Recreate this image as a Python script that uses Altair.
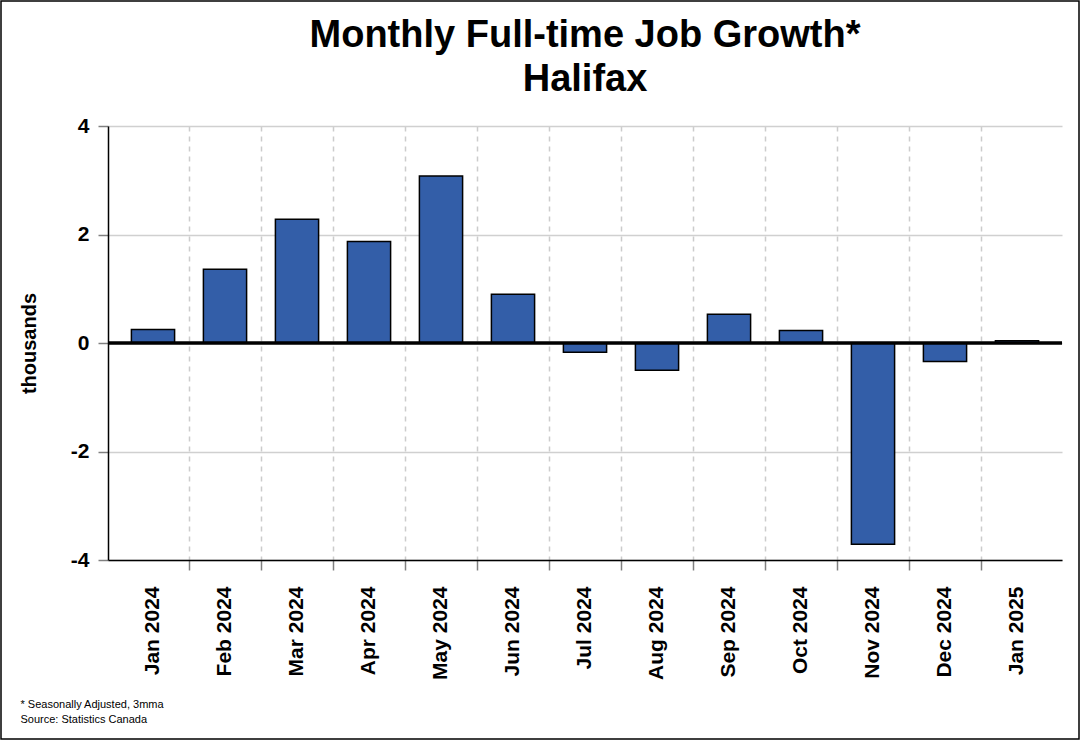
import altair as alt
import pandas as pd

months = ["Jan 2024", "Feb 2024", "Mar 2024", "Apr 2024", "May 2024", "Jun 2024",
          "Jul 2024", "Aug 2024", "Sep 2024", "Oct 2024", "Nov 2024", "Dec 2024", "Jan 2025"]
growth = [0.25, 1.36, 2.28, 1.87, 3.08, 0.90, -0.17, -0.50, 0.53, 0.23, -3.71, -0.34, 0.04]
y_ticks = [-4, -2, 0, 2, 4]

title_lines = ["Monthly Full-time Job Growth*", "Halifax"]
footnotes = ["* Seasonally Adjusted, 3mma", "Source: Statistics Canada"]

FONT = "Liberation Sans"
W, H = 954, 434
PAD = {"left": 108, "top": 126, "right": 18, "bottom": 180}

df = pd.DataFrame({"month": months, "growth": growth})

x_enc = alt.X(
    "month:N",
    sort=months,
    scale=alt.Scale(paddingInner=0, paddingOuter=0.125),
    axis=alt.Axis(
        title=footnotes,
        titleFont=FONT,
        titleFontSize=11,
        titleFontWeight="normal",
        titleAnchor="start",
        titleAlign="left",
        titleBaseline="alphabetic",
        titleX=-88,
        titleY=147,
        titleLineHeight=15,
        titleColor="black",
        bandPosition=0,
        labelOffset=0,
        labelAngle=-90,
        labelAlign="right",
        labelBaseline="middle",
        labelFont=FONT,
        labelFontSize=21,
        labelFontWeight="bold",
        labelColor="black",
        labelPadding=16,
        tickSize=10,
        tickColor="#808080",
        tickWidth=1.5,
        tickOpacity={"condition": {"test": "datum.value == 'Jan 2024'", "value": 0}, "value": 1},
        grid=True,
        gridColor="#cccccc",
        gridDash=[5, 5],
        gridWidth=1.5,
        gridOpacity={"condition": {"test": "datum.value == 'Jan 2024'", "value": 0}, "value": 1},
        domainColor="black",
        domainWidth=1.5,
    ),
)

y_enc = alt.Y(
    "growth:Q",
    scale=alt.Scale(domain=[-4, 4], nice=False, zero=False),
    axis=alt.Axis(
        values=y_ticks,
        labelExpr="datum.value < 0 ? '-' + abs(datum.value) : '' + datum.value",
        title="thousands",
        titleFont=FONT,
        titleFontSize=20,
        titleFontWeight="bold",
        titleColor="black",
        titleAngle=-90,
        titleX=-73,
        titleY=H / 2,
        titleAlign="center",
        titleBaseline="alphabetic",
        labelFont=FONT,
        labelFontSize=21,
        labelFontWeight="bold",
        labelColor="black",
        labelPadding=9,
        tickSize=10,
        tickColor="#808080",
        tickWidth=1.5,
        grid=True,
        gridColor="#d0d0d0",
        gridWidth=1.5,
        domainColor="black",
        domainWidth=1.5,
    ),
)

bars = alt.Chart(df).mark_bar(
    width=alt.RelativeBandSize(0.6),
    color="#335EA8",
    stroke="black",
    strokeWidth=1.5,
).encode(x=x_enc, y=y_enc)

zero = alt.Chart(alt.Data(values=[{"v": 0}])).mark_rule(
    color="black", strokeWidth=3.5
).encode(y=alt.Y("v:Q"))

border = alt.Chart(alt.Data(values=[{"b": 1}])).mark_rect(
    fill=None, stroke="black", strokeWidth=1.5
).encode(
    x=alt.value(-PAD["left"] + 1),
    x2=alt.value(W + PAD["right"] - 1),
    y=alt.value(-PAD["top"] + 1),
    y2=alt.value(H + PAD["bottom"] - 1),
)

chart = alt.layer(bars, zero, border).properties(
    width=W,
    height=H,
    padding=PAD,
    autosize=alt.AutoSizeParams(type="none"),
    background="white",
    title=alt.TitleParams(
        text=title_lines,
        font=FONT,
        fontSize=38,
        fontWeight="bold",
        color="black",
        lineHeight=44,
        anchor="middle",
        frame="group",
        baseline="alphabetic",
        offset=-129,
    ),
).configure_view(stroke=None)

chart.save("out.html", embed_options={"renderer": "svg", "actions": False})
